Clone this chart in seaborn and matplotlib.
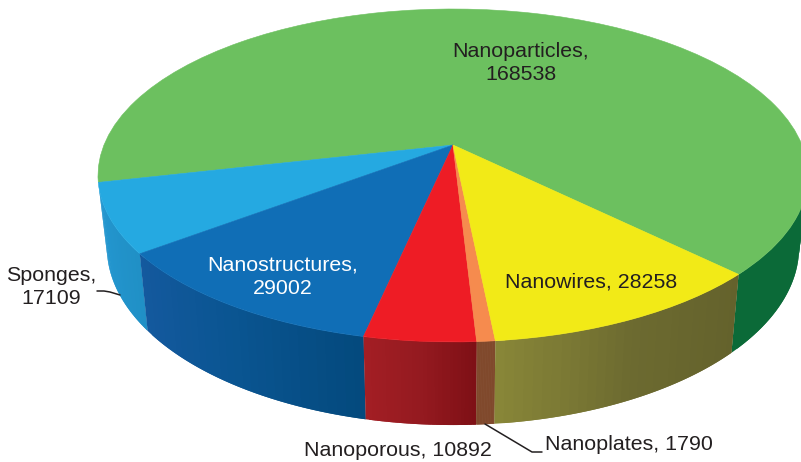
import numpy as np
import matplotlib
matplotlib.use("Agg")
import matplotlib.pyplot as plt
import matplotlib.transforms as mtrans
import seaborn as sns

# pie order, counterclockwise from the green/yellow edge
nomi = ["Nanoparticles", "Sponges", "Nanostructures", "Nanoporous", "Nanoplates", "Nanowires"]
valori = [168538, 17109, 29002, 10892, 1790, 28258]
col_sopra = ["#6CC05F", "#25A9E1", "#106EB6", "#EE1C25", "#F68B4E", "#F2EA17"]
col_lato_a = ["#0B6A38", "#2498D2", "#14599E", "#A31E24", "#80492C", "#888638"]
col_lato_m = ["#0B6A38", "#2294CC", "#0A5592", "#951A20", "#80492C", "#6C6A30"]
col_lato_b = ["#0B6A38", "#2090C6", "#044A7E", "#7F1016", "#80492C", "#64622C"]

START = -44.5
CX, CY = 453, 145   # where the slices meet
A, B, K = 349, 160.9, 0.183   # perspective of the disc


def proietta(u, v):
    s = 1 + K * v
    return CX + A * u / s, CY - B * v / s


def fondo(x, y):
    return CX + 0.975 * (x - CX), 1.069 * y + 59.5


class Prospettiva(mtrans.Transform):
    input_dims = 2
    output_dims = 2

    def transform_non_affine(self, values):
        values = np.asarray(values)
        x, y = proietta(values[:, 0], values[:, 1])
        return np.column_stack([x, y])


sns.set_theme(style="white")
plt.rcParams["font.family"] = ["Liberation Sans", "DejaVu Sans"]

fig, ax = plt.subplots(figsize=(8.01, 4.62), dpi=100)
fig.subplots_adjust(0, 0, 1, 1)

# top face
wedges, _ = ax.pie(valori, colors=sns.color_palette(col_sopra), startangle=START, counterclock=True)
for w in wedges:
    w.set_edgecolor(w.get_facecolor())
    w.set_linewidth(0.4)
    w.set_transform(Prospettiva() + ax.transData)
    w.set_zorder(3)

ax.set_aspect("auto")
ax.set_xlim(0, 801)
ax.set_ylim(462, 0)
ax.axis("off")

# side wall, cut in strips so the shading can change along it
# every strip runs under the next one, otherwise seams show
angoli = START + np.cumsum([0] + valori) / sum(valori) * 360
for i in range(len(valori)):
    t0, t1 = angoli[i], angoli[i + 1]
    if i == 0:
        t1 = -5  # the rest of the green wall is hidden
    n = 30
    tinte = sns.blend_palette([col_lato_a[i], col_lato_m[i], col_lato_b[i]], n)
    bordi = np.radians(np.linspace(t0, t1, n + 1))
    for j in range(n):
        th = np.linspace(bordi[j], bordi[min(j + 2, n)], 6)
        xs, ys = proietta(np.cos(th), np.sin(th))
        xb, yb = fondo(xs, ys)
        ax.fill(np.r_[xs, xb[::-1]], np.r_[ys, yb[::-1]], color=tinte[j], lw=0, zorder=2)

# labels
scuro = "#231F20"
fs = 15.4
sp = 1.3
ax.text(521, 63, f"{nomi[0]},\n{valori[0]}", color=scuro, fontsize=fs, linespacing=sp, ha="center", va="center", zorder=5)
ax.text(283, 277, f"{nomi[2]},\n{valori[2]}", color="white", fontsize=fs, linespacing=sp, ha="center", va="center", zorder=5)
ax.text(591, 282, f"{nomi[5]}, {valori[5]}", color=scuro, fontsize=fs, ha="center", va="center", zorder=5)
ax.text(51, 287, f"{nomi[1]},\n{valori[1]}", color=scuro, fontsize=fs, linespacing=sp, ha="center", va="center", zorder=5)
ax.text(398, 451, f"{nomi[3]}, {valori[3]}", color=scuro, fontsize=fs, ha="center", va="center", zorder=5)
ax.text(629, 445, f"{nomi[4]}, {valori[4]}", color=scuro, fontsize=fs, ha="center", va="center", zorder=5)

# leader lines
ax.plot([97, 104, 110, 120], [291, 291, 292, 295], color=scuro, lw=1.1, zorder=4)
ax.plot([485, 532, 542], [424, 452, 452], color=scuro, lw=1.1, zorder=4)

fig.savefig("out.png", dpi=100, facecolor="white")
